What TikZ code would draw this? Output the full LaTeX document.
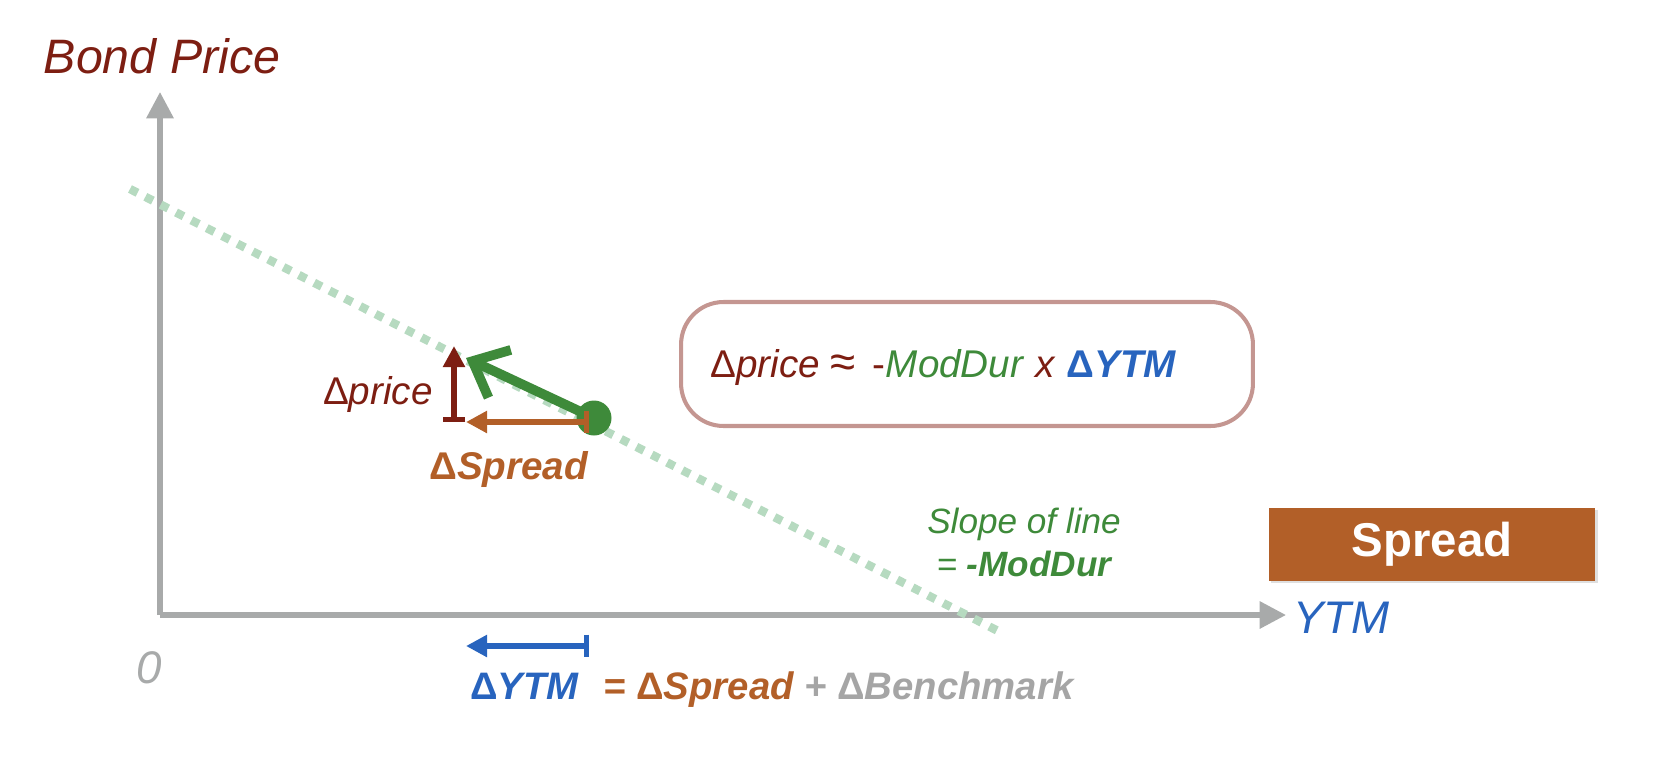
\documentclass[tikz,border=0pt]{standalone}
\usepackage{fontspec}
\setmainfont{Liberation Sans}
\usepackage{tikz}
\usepackage{xcolor}
\usetikzlibrary{arrows.meta, positioning, shadows}

\definecolor{bondred}{RGB}{125,30,18}
\definecolor{durgreen}{RGB}{62,138,58}
\definecolor{sprorange}{RGB}{178,95,40}
\definecolor{ytmblue}{RGB}{40,100,190}
\definecolor{axisgray}{RGB}{168,170,170}
\definecolor{slopegreen}{RGB}{182,218,192}
\definecolor{boxrose}{RGB}{196,150,145}
\definecolor{benchgray}{RGB}{165,165,165}

\begin{document}
\begin{tikzpicture}[x=0.02cm, y=-0.02cm,
    axis/.style={line width=3pt, axisgray, -{Triangle[length=15pt, width=15pt]}},
    delta/.style={line width=3.1pt, {Bar[width=13pt]}-{Triangle[length=12pt, width=12pt]}},
    lbl/.style={font=\fontsize{22}{26}\selectfont, inner sep=0pt}]
    \useasboundingbox (0,0) rectangle (1668,778);

    % axes
    \coordinate (O) at (160,615);
    \coordinate (ytop) at (160,92);
    \coordinate (xend) at (1286,615);
    \draw[axis] (O) -- (ytop);
    \draw[axis] (O) -- (xend);
    \node[lbl, font=\fontsize{27.5}{30}\selectfont\itshape, bondred] (bondprice) at (162,56) {Bond Price};
    \node[lbl, font=\fontsize{26}{30}\selectfont\itshape, ytmblue, anchor=west] (ytm) at (1293,618) {YTM};
    \node[lbl, font=\fontsize{26}{30}\selectfont\itshape, axisgray] (zero) at (149,668) {0};

    % price-yield line
    \coordinate (s1) at (130,189);
    \coordinate (s2) at (1002,633);
    \draw[slopegreen, line width=4.8pt, dash pattern=on 4.8pt off 5pt] (s1) -- (s2);

    % the move
    \node[circle, fill=durgreen, minimum size=0.7cm, inner sep=0pt] (dot) at (594,418) {};
    \coordinate (gtip) at (466,358);
    \draw[durgreen, line width=5.5pt, -{Straight Barb[length=17pt, width=30pt, line width=5.5pt]}] (dot.center) -- (gtip);
    \coordinate (pbase) at (454,422);
    \coordinate (ptip) at (454,346);
    \draw[delta, bondred] (pbase) -- (ptip);
    \coordinate (sbase) at (589,422);
    \coordinate (stip) at (466,422);
    \draw[delta, sprorange] (sbase) -- (stip);
    \node[lbl, bondred, anchor=east] (dprice) at (433,394) {Δ\textit{price}};
    \node[lbl, sprorange, font=\fontsize{22}{26}\selectfont\bfseries] (dspread) at (509,469) {Δ\textit{Spread}};

    % formula box
    \node[draw=boxrose, line width=2.3pt, rounded corners=0.85cm, minimum width=11.44cm, minimum height=2.48cm] (rule) at (967,364) {};
    \node[lbl, bondred, anchor=west] (ruletext) at (710,367) {Δ\textit{price} {\fontsize{26}{26}\selectfont ≈}\, -\textcolor{durgreen}{\textit{ModDur}} \textit{x} \textcolor{ytmblue}{\bfseries Δ\textit{YTM}}};

    % slope note
    \node[lbl, durgreen, font=\fontsize{20}{24.5}\selectfont\itshape, align=center] (slope) at (1024,542) {Slope of line\\= \textbf{-ModDur}};

    \node[fill=sprorange, text=white, font=\fontsize{27}{30}\selectfont\bfseries, minimum width=6.54cm, minimum height=1.46cm,
        drop shadow={opacity=0.25, shadow xshift=1.5pt, shadow yshift=-1.5pt}] (spread) at (1432,544) {Spread};

    % change in ytm
    \coordinate (ybase) at (589,646);
    \coordinate (ytip) at (466,646);
    \draw[delta, ytmblue] (ybase) -- (ytip);
    \node[lbl, anchor=west, font=\fontsize{21.8}{26}\selectfont\bfseries\itshape] (eq) at (470,690)
        {\textcolor{ytmblue}{\upshape Δ\itshape YTM}\hspace{14pt}\textcolor{sprorange}{= {\upshape Δ}Spread} \textcolor{benchgray}{+ {\upshape Δ}Benchmark}};
\end{tikzpicture}
\end{document}
